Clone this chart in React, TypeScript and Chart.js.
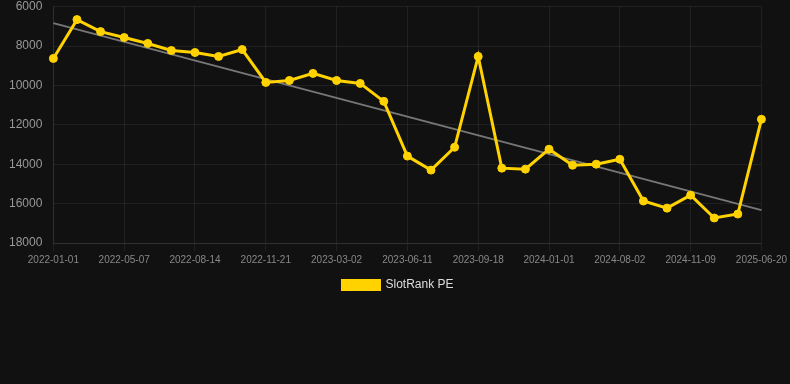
import React, { useEffect, useRef } from "react";
import { Chart, registerables } from "chart.js";

Chart.register(...registerables);

const dates: string[] = [
  "2022-01-01", "2022-02-12", "2022-03-26", "2022-05-07", "2022-06-09", "2022-07-12",
  "2022-08-14", "2022-09-16", "2022-10-19", "2022-11-21", "2022-12-25", "2023-01-27",
  "2023-03-02", "2023-04-05", "2023-05-08", "2023-06-11", "2023-07-14", "2023-08-16",
  "2023-09-18", "2023-10-22", "2023-11-26", "2024-01-01", "2024-03-12", "2024-05-22",
  "2024-08-02", "2024-09-05", "2024-10-08", "2024-11-09", "2025-01-22", "2025-04-06",
  "2025-06-20",
];

const slotRankPE: number[] = [
  8630, 6660, 7270, 7570, 7870, 8230, 8330, 8530, 8180, 9850, 9750, 9390,
  9750, 9900, 10810, 13590, 14300, 13140, 8530, 14200, 14250, 13240, 14050, 14000,
  13750, 15870, 16230, 15570, 16730, 16530, 11720,
];

const trendStart = 6840;
const trendEnd = 16330;

const yTicks = { min: 6000, max: 18000, step: 2000 };

export default function App() {
  const ref = useRef<HTMLCanvasElement | null>(null);

  useEffect(() => {
    document.body.style.margin = "0";
    document.body.style.background = "#111111";
    const trend: (number | null)[] = dates.map((_, i) =>
      i === 0 ? trendStart : i === dates.length - 1 ? trendEnd : null
    );
    const gridColor = "rgba(255,255,255,0.07)";
    const fam = "Arial, 'Liberation Sans', sans-serif";
    const chart = new Chart(ref.current as HTMLCanvasElement, {
      type: "line",
      data: {
        labels: dates,
        datasets: [
          {
            label: "SlotRank PE",
            data: slotRankPE,
            borderColor: "#FFD200",
            backgroundColor: "#FFD200",
            borderWidth: 3,
            pointRadius: 4,
            pointBorderWidth: 1,
            pointHoverRadius: 4,
            pointBackgroundColor: "#FFD200",
            pointBorderColor: "#FFD200",
            tension: 0,
            order: 1,
          },
          {
            label: "trend",
            data: trend,
            borderColor: "#777777",
            backgroundColor: "#777777",
            borderWidth: 2,
            pointRadius: 0,
            spanGaps: true,
            order: 2,
          },
        ],
      },
      options: {
        animation: false,
        responsive: true,
        maintainAspectRatio: false,
        layout: { padding: { top: 0, left: 6, right: 0 } },
        plugins: {
          legend: {
            position: "bottom",
            labels: {
              color: "#dddddd",
              boxWidth: 37,
              boxHeight: 9,
              font: { size: 12, family: fam },
              filter: (item) => item.text !== "trend",
            },
          },
          tooltip: { enabled: false },
        },
        scales: {
          x: {
            grid: {
              color: (ctx: any) => (ctx.index % 3 === 0 ? gridColor : "rgba(0,0,0,0)"),
              tickColor: (ctx: any) => (ctx.index % 3 === 0 ? gridColor : "rgba(0,0,0,0)"),
            },
            border: { color: gridColor },
            ticks: {
              autoSkip: false,
              maxRotation: 0,
              minRotation: 0,
              color: "#888888",
              font: { size: 10, family: fam },
              callback: (_v: any, i: number) => (i % 3 === 0 ? dates[i] : ""),
            },
          },
          y: {
            reverse: true,
            min: yTicks.min,
            max: yTicks.max,
            grid: { color: gridColor, tickColor: "rgba(0,0,0,0)" },
            border: { color: gridColor },
            ticks: {
              stepSize: yTicks.step,
              color: "#999999",
              font: { size: 12, family: fam, lineHeight: 0.6 },
              callback: (v: any) => String(v),
            },
          },
        },
      },
    });
    return () => chart.destroy();
  }, []);

  return (
    <div style={{ width: 790, height: 301, background: "#111111" }}>
      <canvas ref={ref} />
    </div>
  );
}
